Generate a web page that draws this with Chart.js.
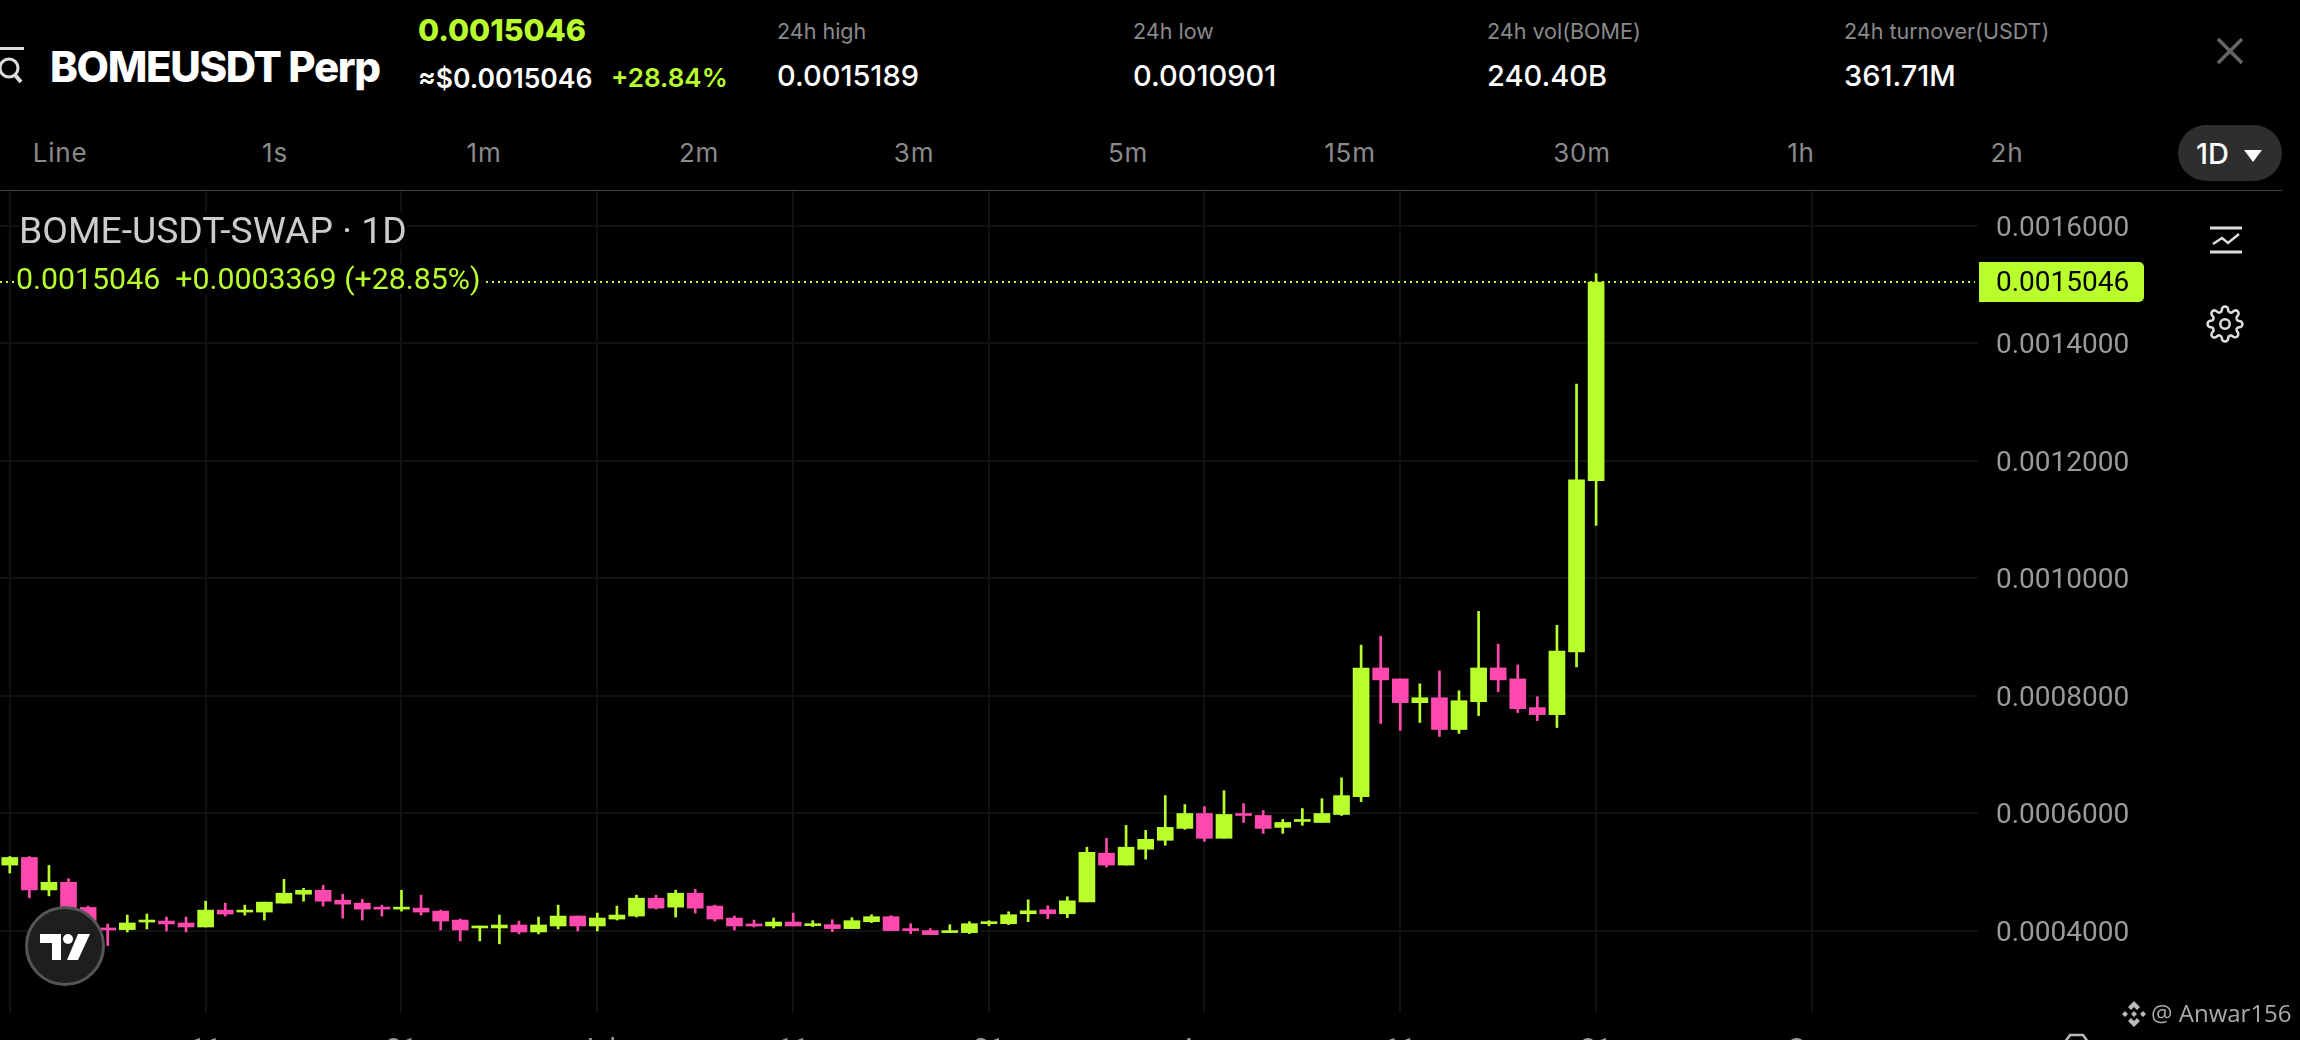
<!DOCTYPE html>
<html>
<head>
<meta charset="utf-8">
<title>BOMEUSDT Perp</title>
<script src="https://cdn.jsdelivr.net/npm/chart.js@4/dist/chart.umd.min.js"></script>
<style>
	html, body { margin: 0; padding: 0; background: #000; width: 2300px; height: 1040px; overflow: hidden; }
	#myChart { position: absolute; left: 0; top: 191px; }
	.t { position: absolute; white-space: nowrap; font-family: Inter, sans-serif; line-height: 1; }
	.green { color: #b9ff2c; }
	.lab { font-size: 21.5px; color: #8a8a8a; top: 21px; }
	.val { font-size: 29px; color: #fff; top: 61px; font-weight: 500; }
	.tab { font-size: 26px; color: #8a8a8a; top: 140px; transform: translateX(-50%); letter-spacing: 0.8px; }
	#rule { position: absolute; left: 0; top: 190px; width: 2282px; height: 1px; background: #444; }
	#pill { position: absolute; left: 2178px; top: 125px; width: 104px; height: 56px; border-radius: 28px; background: #2e2e2e; }
	svg { position: absolute; overflow: visible; }
</style>
</head>
<body>
<canvas id="myChart" width="2300" height="891"></canvas>

<svg style="left:0;top:46px" width="30" height="44" fill="none" stroke="#ddd" stroke-width="3">
	<path d="M0 2.5H24"/><circle cx="9" cy="22" r="9"/><path d="M15 29L21 36" stroke-width="4"/>
</svg>
<div class="t" style="left:50px;top:46px;font-size:42px;font-weight:800;color:#fff;letter-spacing:-1.35px">BOMEUSDT Perp</div>
<div class="t green" style="left:418px;top:15px;font-size:30.5px;font-weight:800">0.0015046</div>
<div class="t" style="left:418px;top:65px;font-size:26.5px;font-weight:600;color:#fff">≈$0.0015046</div>
<div class="t green" style="left:611px;top:65px;font-size:26px;font-weight:600">+28.84%</div>

<div class="t lab" style="left:777px">24h high</div>
<div class="t val" style="left:777px">0.0015189</div>
<div class="t lab" style="left:1133px">24h low</div>
<div class="t val" style="left:1133px">0.0010901</div>
<div class="t lab" style="left:1487px">24h vol(BOME)</div>
<div class="t val" style="left:1487px">240.40B</div>
<div class="t lab" style="left:1844px">24h turnover(USDT)</div>
<div class="t val" style="left:1844px">361.71M</div>

<svg style="left:2217px;top:38px" width="26" height="26" stroke="#666" stroke-width="3.5" fill="none">
	<path d="M1 1L25 25M25 1L1 25"/>
</svg>

<div class="t tab" style="left:60px">Line</div>
<div class="t tab" style="left:275px">1s</div>
<div class="t tab" style="left:484px">1m</div>
<div class="t tab" style="left:699px">2m</div>
<div class="t tab" style="left:914px">3m</div>
<div class="t tab" style="left:1128px">5m</div>
<div class="t tab" style="left:1350px">15m</div>
<div class="t tab" style="left:1582px">30m</div>
<div class="t tab" style="left:1801px">1h</div>
<div class="t tab" style="left:2007px">2h</div>
<div id="pill"></div>
<div class="t" style="left:2196px;top:139px;font-size:29px;color:#fff;font-weight:500">1D</div>
<svg style="left:2244px;top:150px" width="18" height="12"><path d="M0 0H18L9 12Z" fill="#fff"/></svg>
<div id="rule"></div>

<div class="t" style="left:19px;top:212px;font-family:Roboto;font-size:37.3px;color:#ccc;background:#000">BOME-USDT-SWAP · 1D</div>
<div class="t green" style="left:16px;top:264px;font-family:Roboto;font-size:30.3px;background:#000;padding-right:3px">0.0015046&nbsp; +0.0003369 (+28.85%)</div>

<svg style="left:2210px;top:226px" width="32" height="28" fill="none" stroke="#ddd" stroke-width="3">
	<path d="M0 2H32M0 26H32"/><path d="M3 18L12 12L18 17L29 8" stroke-width="2.5"/>
</svg>
<svg style="left:2206px;top:305px" width="38" height="38" viewBox="0 0 24 24" fill="none" stroke="#ddd" stroke-width="1.6">
	<circle cx="12" cy="12" r="3"/>
	<path d="M19.4 15a1.7 1.7 0 0 0 .3 1.8l.1.1a2 2 0 1 1-2.9 2.9l-.1-.1a1.7 1.7 0 0 0-2.8 1.2V21a2 2 0 1 1-4 0v-.1a1.7 1.7 0 0 0-2.9-1.2l-.1.1a2 2 0 1 1-2.8-2.8l.1-.1a1.7 1.7 0 0 0-1.2-2.9H3a2 2 0 1 1 0-4h.1a1.7 1.7 0 0 0 1.2-2.9l-.1-.1a2 2 0 1 1 2.8-2.8l.1.1a1.7 1.7 0 0 0 1.9.3h.1A1.7 1.7 0 0 0 10 3.1V3a2 2 0 1 1 4 0v.1a1.7 1.7 0 0 0 2.9 1.2l.1-.1a2 2 0 1 1 2.8 2.8l-.1.1a1.7 1.7 0 0 0-.3 1.9v.1a1.7 1.7 0 0 0 1.5 1h.1a2 2 0 1 1 0 4h-.1a1.7 1.7 0 0 0-1.5 1z"/>
</svg>

<svg style="left:25px;top:906px" width="80" height="80">
	<circle cx="40" cy="40" r="38.5" fill="#1e1e1e" stroke="#555" stroke-width="3"/>
	<path d="M15 28H36V54H27V37H15Z" fill="#fff"/>
	<circle cx="43" cy="33" r="5" fill="#fff"/>
	<path d="M53 28H65L53 54H42Z" fill="#fff"/>
</svg>

<svg style="left:2120px;top:1000px" width="28" height="28" fill="#bbb">
	<path d="M14 1L20 7L17 10L14 7L11 10L8 7ZM14 27L8 21L11 18L14 21L17 18L20 21ZM5 11L8 14L5 17L2 14ZM23 11L26 14L23 17L20 14ZM14 11L17 14L14 17L11 14Z"/>
</svg>
<div class="t" style="left:2151px;top:1001px;font-family:'Open Sans';font-size:24px;color:#aaa">@ Anwar156</div>
<svg style="left:2064px;top:1033px" width="26" height="10" fill="none" stroke="#bbb" stroke-width="2.5"><path d="M1 9L6 2H19L24 9"/></svg>

<script>
const candleOpen = [0.0005116,0.0005245,0.0004693,0.0004823,0.0004394,0.0004045,0.0004017,0.0004146,0.0004163,0.0004130,
	0.0004062,0.0004349,0.0004316,0.0004316,0.0004468,0.0004620,0.0004687,0.0004518,0.0004468,0.0004400,
	0.0004366,0.0004383,0.0004332,0.0004180,0.0004045,0.0004045,0.0004096,0.0003977,0.0004079,0.0004248,
	0.0004079,0.0004197,0.0004248,0.0004552,0.0004400,0.0004637,0.0004417,0.0004214,0.0004113,0.0004079,
	0.0004146,0.0004085,0.0004101,0.0004034,0.0004152,0.0004237,0.0004034,0.0004000,0.0003966,0.0003966,
	0.0004118,0.0004118,0.0004287,0.0004355,0.0004287,0.0004490,0.0005318,0.0005116,0.0005386,0.0005538,
	0.0005741,0.0005994,0.0005572,0.0005994,0.0005961,0.0005758,0.0005859,0.0005842,0.0005978,0.0006282,
	0.0008473,0.0008287,0.0007882,0.0007966,0.0007425,0.0007899,0.0008473,0.0008287,0.0007797,0.0007679,
	0.0008745,0.0011663];
const candleHigh = [0.0005262,0.0005262,0.0005110,0.0004885,0.0004417,0.0004113,0.0004265,0.0004282,0.0004231,0.0004231,
	0.0004501,0.0004468,0.0004434,0.0004485,0.0004873,0.0004721,0.0004772,0.0004620,0.0004535,0.0004434,
	0.0004687,0.0004603,0.0004349,0.0004197,0.0004079,0.0004265,0.0004163,0.0004231,0.0004434,0.0004248,
	0.0004299,0.0004417,0.0004603,0.0004603,0.0004687,0.0004704,0.0004434,0.0004248,0.0004180,0.0004214,
	0.0004299,0.0004169,0.0004186,0.0004220,0.0004270,0.0004254,0.0004118,0.0004034,0.0004101,0.0004152,
	0.0004169,0.0004321,0.0004524,0.0004423,0.0004575,0.0005420,0.0005572,0.0005792,0.0005707,0.0006299,
	0.0006147,0.0006113,0.0006383,0.0006163,0.0006045,0.0005893,0.0006079,0.0006248,0.0006603,0.0008862,
	0.0009014,0.0008287,0.0008203,0.0008423,0.0008085,0.0009437,0.0008879,0.0008524,0.0007983,0.0009200,
	0.0013309,0.0015189];
const candleLow = [0.0004980,0.0004558,0.0004592,0.0004349,0.0004011,0.0003746,0.0003977,0.0004028,0.0003994,0.0003977,
	0.0004062,0.0004248,0.0004265,0.0004180,0.0004468,0.0004501,0.0004417,0.0004214,0.0004180,0.0004248,
	0.0004332,0.0004265,0.0004011,0.0003825,0.0003825,0.0003775,0.0003944,0.0003944,0.0004028,0.0003994,
	0.0003994,0.0004180,0.0004231,0.0004366,0.0004231,0.0004299,0.0004163,0.0004011,0.0004062,0.0004045,
	0.0004079,0.0004068,0.0003983,0.0004034,0.0004135,0.0004000,0.0003949,0.0003932,0.0003966,0.0003949,
	0.0004085,0.0004101,0.0004152,0.0004203,0.0004220,0.0004490,0.0005082,0.0005116,0.0005217,0.0005454,
	0.0005724,0.0005521,0.0005572,0.0005842,0.0005656,0.0005656,0.0005792,0.0005842,0.0005961,0.0006197,
	0.0007527,0.0007408,0.0007544,0.0007307,0.0007358,0.0007662,0.0008068,0.0007713,0.0007577,0.0007459,
	0.0008490,0.0010901];
const candleClose = [0.0005245,0.0004693,0.0004823,0.0004394,0.0004039,0.0004011,0.0004130,0.0004180,0.0004113,0.0004062,
	0.0004349,0.0004282,0.0004349,0.0004485,0.0004637,0.0004687,0.0004501,0.0004451,0.0004366,0.0004366,
	0.0004400,0.0004316,0.0004163,0.0004011,0.0004079,0.0004096,0.0003977,0.0004096,0.0004248,0.0004079,
	0.0004214,0.0004265,0.0004552,0.0004383,0.0004637,0.0004383,0.0004197,0.0004079,0.0004079,0.0004146,
	0.0004079,0.0004118,0.0004034,0.0004169,0.0004237,0.0004000,0.0004000,0.0003932,0.0004000,0.0004118,
	0.0004152,0.0004270,0.0004338,0.0004287,0.0004507,0.0005335,0.0005116,0.0005420,0.0005555,0.0005758,
	0.0005994,0.0005572,0.0005978,0.0005961,0.0005741,0.0005842,0.0005893,0.0005994,0.0006299,0.0008473,
	0.0008270,0.0007882,0.0007966,0.0007425,0.0007915,0.0008473,0.0008270,0.0007780,0.0007679,0.0008761,
	0.0011675,0.0015046];

const tickIndexes = [0, 10, 20, 30, 40, 50, 61, 71, 81, 92];
const tickLabels = ["", "11", "21", "Jul", "11", "21", "Aug", "11", "21", "Sep"];
const yTickValues = [0.0004, 0.0006, 0.0008, 0.0010, 0.0012, 0.0014, 0.0016];
const lastPrice = 0.0015046;

const upColor = "#b9ff2c";
const downColor = "#ff49ae";
const gridColor = "#111111";

// the time scale runs on past the last candle, so there are more slots than candles
var slots = [];
for (let i = 0; i < 101; i++) {
	let pos = tickIndexes.indexOf(i);
	slots.push(pos >= 0 ? tickLabels[pos] : "");
}

var barColors = [];
var wicks = [];
var bodies = [];
for (let i = 0; i < candleOpen.length; i++) {
	barColors.push(candleClose[i] >= candleOpen[i] ? upColor : downColor);
	wicks.push([candleLow[i], candleHigh[i]]);
	bodies.push([candleOpen[i], candleClose[i]]);
}

// dotted last price line and the price tag on the axis
const lastPricePlugin = {
	id: "lastPrice",
	beforeDatasetsDraw: function(chart) {
		var ctx = chart.ctx;
		var y = Math.round(chart.scales.y.getPixelForValue(lastPrice));
		ctx.save();
		ctx.strokeStyle = upColor;
		ctx.lineWidth = 2;
		ctx.setLineDash([2, 4]);
		ctx.beginPath();
		ctx.moveTo(0, y);
		ctx.lineTo(chart.chartArea.right - 3, y);
		ctx.stroke();
		ctx.restore();
	},
	afterDraw: function(chart) {
		var ctx = chart.ctx;
		var y = chart.scales.y.getPixelForValue(lastPrice);
		ctx.save();
		ctx.fillStyle = upColor;
		ctx.beginPath();
		ctx.roundRect(1979, y - 20, 165, 40, [0, 5, 5, 0]);
		ctx.fill();
		ctx.fillStyle = "#000";
		ctx.font = "28px Roboto";
		ctx.textBaseline = "middle";
		ctx.fillText(lastPrice.toFixed(7), 1996, y + 2);
		ctx.restore();
	}
};

new Chart("myChart", {
	type: "bar",
	plugins: [lastPricePlugin],
	data: {
		labels: slots,
		datasets: [{
			label: "wick",
			data: wicks,
			backgroundColor: barColors,
			barThickness: 2,
			grouped: false
		}, {
			label: "body",
			data: bodies,
			backgroundColor: barColors,
			barThickness: 16,
			grouped: false
		}]
	},
	options: {
		responsive: false,
		animation: false,
		devicePixelRatio: 1,
		layout: { padding: 0 },
		plugins: {
			legend: { display: false },
			title: { display: false },
			tooltip: { enabled: false }
		},
		scales: {
			x: {
				offset: true,
				grid: { offset: false, color: gridColor, lineWidth: 2, drawTicks: false },
				border: { display: false },
				ticks: { autoSkip: false, maxRotation: 0, padding: 21, color: "#9a9a9a", font: { family: "Roboto", size: 28 } },
				afterBuildTicks: function(scale) {
					scale.ticks = tickIndexes.map(function(i) { return { value: i }; });
				},
				afterFit: function(scale) {
					scale.height = 69;
					scale.paddingLeft = 0;
					scale.paddingRight = 0;
				}
			},
			y: {
				position: "right",
				min: 0.0002597,
				max: 0.0016596,
				grid: { color: gridColor, lineWidth: 2, drawTicks: false },
				border: { display: false },
				ticks: {
					padding: 18,
					labelOffset: 3,
					color: "#9a9a9a",
					font: { family: "Roboto", size: 28 },
					callback: function(value) { return value.toFixed(7); }
				},
				afterBuildTicks: function(scale) {
					scale.ticks = yTickValues.map(function(v) { return { value: v }; });
				},
				afterFit: function(scale) {
					scale.width = 322;
					scale.paddingTop = 0;
					scale.paddingBottom = 0;
				}
			}
		}
	}
});
</script>
</body>
</html>
